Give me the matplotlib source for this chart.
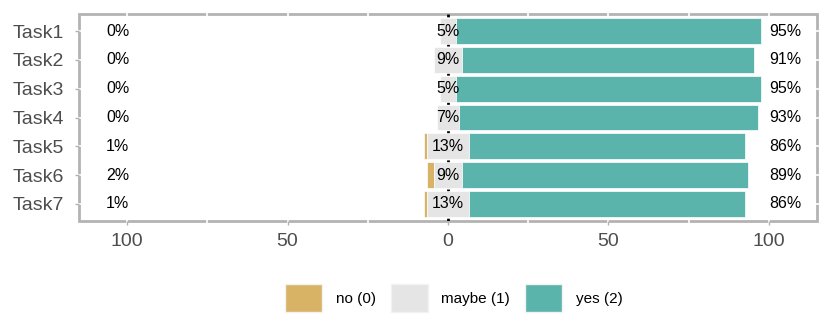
import matplotlib.pyplot as plt
from matplotlib.patches import Patch, Rectangle
import numpy as np

plt.rcParams['font.family'] = ['Liberation Sans', 'DejaVu Sans']

tasks = ["Task1", "Task2", "Task3", "Task4", "Task5", "Task6", "Task7"]
no_pct = [0, 0, 0, 0, 1, 2, 1]
maybe_pct = [5, 9, 5, 7, 13, 9, 13]
yes_pct = [95, 91, 95, 93, 86, 89, 86]
labels = ["no (0)", "maybe (1)", "yes (2)"]
colors = ["#D8B365", "#E5E5E5", "#5AB4AC"]

no = np.array(no_pct, dtype=float)
maybe = np.array(maybe_pct, dtype=float)
yes = np.array(yes_pct, dtype=float)
y = np.arange(len(tasks))

fig = plt.figure(figsize=(8.3, 3.32), dpi=100)
ax = fig.add_axes([79/830, 1 - 221/332, (817-79)/830, (221-14)/332])

# border under the grid, grid under the bars
ax.add_patch(Rectangle((0, 0), 1, 1, transform=ax.transAxes, fill=False,
                       edgecolor="#B3B3B3", lw=2, zorder=0.3, clip_on=False))
for s in ax.spines.values():
    s.set_visible(False)
for xv in [-100, -75, -50, -25, 25, 50, 75, 100]:
    ax.axvline(xv, ymin=-0.02, ymax=1.02, color="white", lw=1.2, zorder=0.4, clip_on=False)
for yv in y:
    ax.axhline(yv, xmin=-0.01, xmax=1.01, color="white", lw=1.2, zorder=0.4, clip_on=False)

ax.axvline(0, color="black", ls=(0, (1, 2.5)), lw=2, zorder=0.5)

h = 0.9
ax.barh(y, no, left=-maybe/2 - no, height=h, color=colors[0], edgecolor="white", lw=0.5, zorder=2)
ax.barh(y, maybe, left=-maybe/2, height=h, color=colors[1], edgecolor="white", lw=0.5, zorder=2)
ax.barh(y, yes, left=maybe/2, height=h, color=colors[2], edgecolor="white", lw=0.5, zorder=2)

for i in range(len(tasks)):
    ax.text(-103, y[i], f"{no_pct[i]}%", ha="center", va="center", fontsize=11.5, zorder=3)
    ax.text(0, y[i], f"{maybe_pct[i]}%", ha="center", va="center", fontsize=11.5, zorder=3)
    ax.text(105, y[i], f"{yes_pct[i]}%", ha="center", va="center", fontsize=11.5, zorder=3)

ax.set_xlim(-115, 115)
ax.set_ylim(len(tasks) - 0.4, -0.6)
ax.set_yticks(y)
ax.set_yticklabels(tasks, fontsize=14, color="#4D4D4D")
ax.set_xticks([-100, -50, 0, 50, 100])
ax.set_xticklabels(["100", "50", "0", "50", "100"], fontsize=14, color="#4D4D4D")
ax.tick_params(axis="both", color="#B3B3B3", length=3, width=1, pad=4)
ax.tick_params(axis="x", pad=6)
ax.tick_params(axis="y", pad=8)

handles = [Patch(facecolor=c, edgecolor="#F2F2F2", lw=1) for c in colors]
fig.legend(handles, labels, loc="center", bbox_to_anchor=(0.547, 1 - 298/332), ncol=3,
           frameon=False, fontsize=11, handlelength=2.4, handleheight=2.4,
           handletextpad=0.9, columnspacing=1.0)

fig.savefig("out.png", dpi=100)
